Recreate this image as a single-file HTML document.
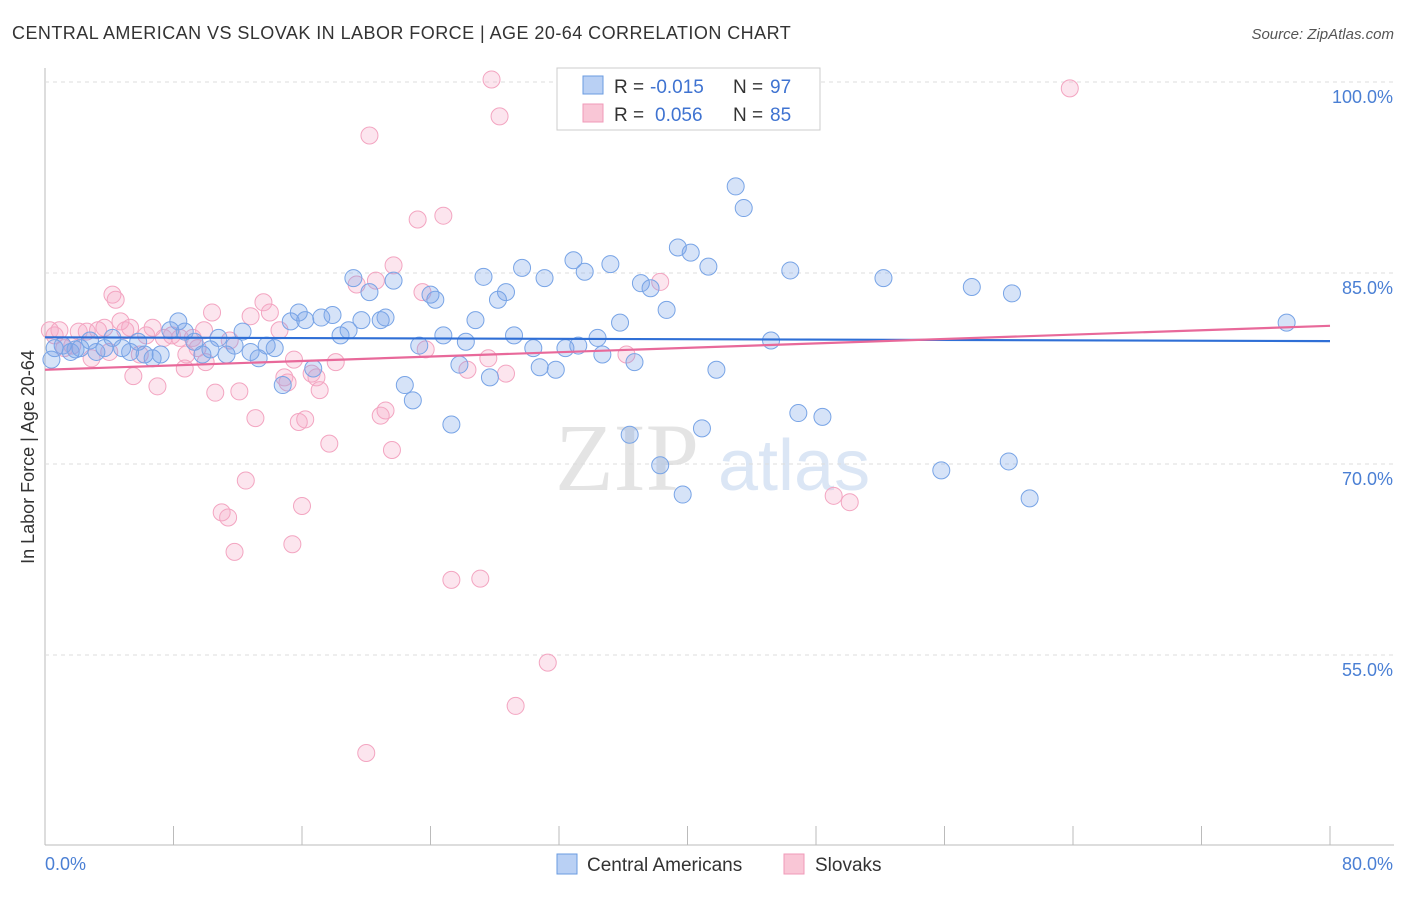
<!DOCTYPE html>
<html><head><meta charset="utf-8"><style>
body{margin:0;background:#fff;font-family:"Liberation Sans",sans-serif}
</style></head><body>
<svg id="c" width="1406" height="892" xmlns="http://www.w3.org/2000/svg" style="font-family:'Liberation Sans',sans-serif">
<text x="12" y="39" font-size="18" letter-spacing="0.45" fill="#333">CENTRAL AMERICAN VS SLOVAK IN LABOR FORCE | AGE 20-64 CORRELATION CHART</text>
<text x="1394" y="39" font-size="15" fill="#555" text-anchor="end" font-style="italic">Source: ZipAtlas.com</text>
<text x="555" y="490" font-size="96" fill="#e4e4e4" font-family="Liberation Serif">ZIP</text>
<text x="718" y="490" font-size="72" fill="#dbe6f5">atlas</text>
<text transform="translate(34,457) rotate(-90)" font-size="18" fill="#333" text-anchor="middle">In Labor Force | Age 20-64</text>
<g id="grid"></g><g id="pts"></g><g id="lines"></g>
<g>
<rect x="557" y="68" width="263" height="62" fill="#fff" stroke="#ccc"/>
<rect x="583" y="76" width="20" height="18" fill="#b9d0f4" stroke="#6a9be0"/>
<rect x="583" y="104" width="20" height="18" fill="#f9c6d6" stroke="#f09ab8"/>
<text x="614" y="93" font-size="19" fill="#333">R =</text>
<text x="650" y="93" font-size="19" fill="#3f73d1">-0.015</text>
<text x="733" y="93" font-size="19" fill="#333">N =</text>
<text x="770" y="93" font-size="19" fill="#3f73d1">97</text>
<text x="614" y="121" font-size="19" fill="#333">R =</text>
<text x="655" y="121" font-size="19" fill="#3f73d1">0.056</text>
<text x="733" y="121" font-size="19" fill="#333">N =</text>
<text x="770" y="121" font-size="19" fill="#3f73d1">85</text>
</g>
<g>
<rect x="557" y="854" width="20" height="20" fill="#b9d0f4" stroke="#6a9be0"/>
<text x="587" y="871" font-size="19" fill="#333">Central Americans</text>
<rect x="784" y="854" width="20" height="20" fill="#f9c6d6" stroke="#f09ab8"/>
<text x="815" y="871" font-size="19" fill="#333">Slovaks</text>
</g>
</svg>
<script>
const blueX=[0.4,0.6,1.1,1.6,1.9,2.2,2.8,3.2,3.7,4.2,4.8,5.3,5.8,6.2,6.7,7.2,7.8,8.3,8.7,9.3,9.8,10.3,10.8,11.3,11.8,12.3,12.8,13.3,13.8,14.3,14.8,15.3,15.8,16.2,16.7,17.2,17.9,18.4,18.9,19.2,19.7,20.2,20.9,21.2,21.7,22.4,22.9,23.3,24.0,24.3,24.8,25.3,25.8,26.2,26.8,27.3,27.7,28.2,28.7,29.2,29.7,30.4,30.8,31.1,31.8,32.4,32.9,33.2,33.6,34.4,34.7,35.2,35.8,36.4,36.7,37.1,37.7,38.3,38.7,39.4,39.7,40.2,40.9,41.3,41.8,43.0,43.5,45.2,46.4,46.9,48.4,52.2,55.8,57.7,60.0,60.2,61.3,77.3];
const blueY=[78.2,79.1,79.3,78.8,79.0,79.1,79.7,78.8,79.1,79.9,79.1,78.8,79.6,78.6,78.3,78.6,80.5,81.2,80.4,79.6,78.6,79.0,79.9,78.6,79.3,80.4,78.8,78.3,79.3,79.1,76.2,81.2,81.9,81.3,77.5,81.5,81.7,80.1,80.5,84.6,81.3,83.5,81.3,81.5,84.4,76.2,75.0,79.3,83.3,82.9,80.1,73.1,77.8,79.6,81.3,84.7,76.8,82.9,83.5,80.1,85.4,79.1,77.6,84.6,77.4,79.1,86.0,79.3,85.1,79.9,78.6,85.7,81.1,72.3,78.0,84.2,83.8,69.9,82.1,87.0,67.6,86.6,72.8,85.5,77.4,91.8,90.1,79.7,85.2,74.0,73.7,84.6,69.5,83.9,70.2,83.4,67.3,81.1];
const pinkX=[0.3,0.6,0.9,1.2,1.7,2.1,2.6,2.9,3.3,3.7,4.0,4.2,4.4,4.7,5.0,5.3,5.5,5.9,6.3,6.7,7.0,7.4,7.9,8.4,8.7,8.8,9.2,9.5,9.9,10.0,10.4,10.6,11.0,11.4,11.5,11.8,12.1,12.5,12.8,13.1,13.6,14.0,14.6,14.9,15.1,15.4,15.5,15.8,16.0,16.2,16.6,16.9,17.1,17.7,18.1,19.4,20.0,20.2,20.6,20.9,21.2,21.6,21.7,23.2,23.5,23.7,24.8,25.3,26.3,27.1,27.6,27.8,28.3,28.7,29.3,31.3,36.2,38.3,43.0,49.1,50.1,63.8];
const pinkY=[80.5,80.1,80.5,79.1,79.3,80.4,80.4,78.3,80.5,80.7,78.8,83.3,82.9,81.2,80.5,80.7,76.9,78.6,80.1,80.7,76.1,79.9,80.1,79.9,77.5,78.6,79.9,79.1,80.5,78.0,81.9,75.6,66.2,65.8,79.7,63.1,75.7,68.7,81.6,73.6,82.7,81.9,80.5,76.8,76.4,63.7,78.2,73.3,66.7,73.5,77.1,76.8,75.8,71.6,78.0,84.1,47.3,95.8,84.4,73.8,74.2,71.1,85.6,89.2,83.5,79.0,89.5,60.9,77.4,61.0,78.3,100.2,97.3,77.1,51.0,54.4,78.6,84.3,100.2,67.5,67.0,99.5];
const blueTrend=[79.95,79.65];
const pinkTrend=[77.4,80.85];
const yTicks=[100,85,70,55];
const xTickCount=10;
const NS="http://www.w3.org/2000/svg";
const X=v=>45+v/80*1285, Y=v=>82+(100-v)*12.733;
function mk(t,a,p){const e=document.createElementNS(NS,t);for(const k in a)e.setAttribute(k,a[k]);p.appendChild(e);return e;}
const g=document.getElementById('grid');
const ax=mk('line',{x1:45,y1:68,x2:45,y2:845,stroke:'#bbb'},g);

const bx=mk('line',{x1:45,y1:845,x2:1394,y2:845,stroke:'#bbb'},g);

yTicks.forEach(t=>{
 const l=mk('line',{x1:45,x2:1394,y1:Y(t),y2:Y(t),stroke:'#ddd','stroke-dasharray':'4,4'},g);
 
 const tx=mk('text',{x:1393,y:Y(t)+21,'font-size':18,fill:'#4a7fd4','text-anchor':'end'},g);
 tx.textContent=t.toFixed(1)+'%';
 
});
for(let i=0;i<=xTickCount;i++){const l=mk('line',{x1:X(i*8),x2:X(i*8),y1:826,y2:845,stroke:'#bbb'},g);
 }
[[0,'0.0%','start',45],[80,'80.0%','end',1393]].forEach(d=>{const t=mk('text',{x:d[3],y:870,'font-size':18,fill:'#4a7fd4','text-anchor':d[2]},g);t.textContent=d[1];
 });
const p=document.getElementById('pts');
function pts(xs,ys,fill,st,name){xs.forEach((x,i)=>{const c=mk('circle',{cx:X(x),cy:Y(ys[i]),r:8.5,fill:fill,stroke:st,'stroke-width':1},p);
 });}
pts(pinkX,pinkY,'rgba(244,170,198,0.3)','#f3a5c1','slovak-point');
pts(blueX,blueY,'rgba(120,162,232,0.3)','#78a4e6','central-american-point');
const L=document.getElementById('lines');
const b=mk('line',{x1:X(0),y1:Y(blueTrend[0]),x2:X(80),y2:Y(blueTrend[1]),stroke:'#2f6fd6','stroke-width':2.2},L);

const q=mk('line',{x1:X(0),y1:Y(pinkTrend[0]),x2:X(80),y2:Y(pinkTrend[1]),stroke:'#e8699a','stroke-width':2.2},L);

</script>
</body></html>
